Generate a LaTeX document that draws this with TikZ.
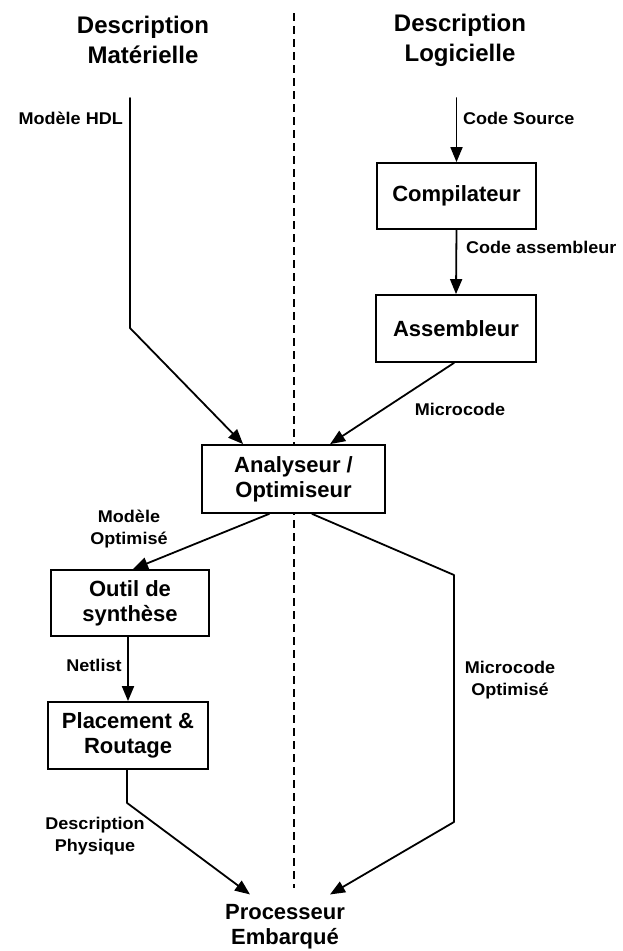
\documentclass[tikz,border=0pt]{standalone}
\usepackage{fontspec}
\setmainfont{Liberation Sans}
\newfontfamily\lblfont[FakeStretch=1.06]{Liberation Sans}
\usetikzlibrary{arrows.meta,calc}
\begin{document}
\begin{tikzpicture}[x=1pt,y=-1pt,
  conn/.style={line width=1.8pt,line cap=round,line join=round},
  arr/.style={conn,-{Triangle[length=15pt,width=12pt]}},
  procbox/.style={draw,line width=1.8pt,fill=white,inner sep=0pt,align=center,
    font=\bfseries\fontsize{22}{25}\selectfont},
  titletxt/.style={align=center,inner sep=0pt,font=\bfseries\fontsize{24}{30}\selectfont},
  lbl/.style={align=center,inner sep=0pt,font=\lblfont\bfseries\fontsize{17}{22}\selectfont},
  divider/.style={line width=1.6pt,dash pattern=on 8pt off 5pt}
]
\useasboundingbox (0,0) rectangle (622,951);
% titles
\node[titletxt] (tmat) at (143,40) {Description\\Matérielle};
\node[titletxt] (tlog) at (460,40) {Description\\Logicielle};
% divider
\coordinate (dtop) at (294,13);
\coordinate (dbot) at (294,888);
\draw[divider] (dtop) -- (dbot);
% boxes
\node[procbox,minimum width=159pt,minimum height=66pt] (comp) at (456.5,196) {Compilateur};
\node[procbox,minimum width=160pt,minimum height=67pt] (asm) at (456,328.5) {Assembleur};
\node[procbox,minimum width=183pt,minimum height=68pt] (ana) at (293.5,479) {Analyseur /\\Optimiseur};
\node[procbox,minimum width=158pt,minimum height=66pt] (outil) at (130,603) {Outil de\\synthèse};
\node[procbox,minimum width=160pt,minimum height=67pt] (place) at (128,735.5) {Placement \&\\Routage};
\node[align=center,inner sep=0pt,font=\bfseries\fontsize{22}{25}\selectfont] (proc) at (285,927) {Processeur\\Embarqué};
% start points
\coordinate (hdl) at (130,98);
\coordinate (src) at (456.5,98);
% connectors
\draw[arr] (hdl) -- (130,328) -- ($(ana.north west)+(42,0)$);
\draw[arr] (src) -- (comp.north);
\draw[arr] (comp.south) -- (asm.north);
\draw[arr] ($(asm.south)+(-2,0)$) -- ($(ana.north west)+(129,0)$);
\draw[arr] ($(ana.south west)+(68,0)$) -- ($(outil.north)+(3,0)$);
\draw[arr] (outil.south -| place.north) -- (place.north);
\draw[arr] ($(place.south)+(-1,0)$) -- ($(place.south)+(-1,33)$) -- ($(proc.north)+(-35,-10)$);
\draw[arr] ($(ana.south west)+(111,0)$) -- (454,575) -- (454,822) -- ($(proc.north)+(45,-10)$);
% labels
\node[lbl,anchor=east] (lhdl) at (123,118) {Modèle HDL};
\node[lbl,anchor=west] (lsrc) at (463,118) {Code Source};
\node[lbl,anchor=west] (lasm) at (466,247) {Code assembleur};
\node[lbl] (lmic) at (460,409) {Microcode};
\node[lbl] (lmo) at (129,529) {Modèle\\Optimisé};
\node[lbl] (lnet) at (94,665) {Netlist};
\node[lbl] (lphy) at (95,836) {Description\\Physique};
\node[lbl] (lmico) at (510,680) {Microcode\\Optimisé};
\end{tikzpicture}
\end{document}
